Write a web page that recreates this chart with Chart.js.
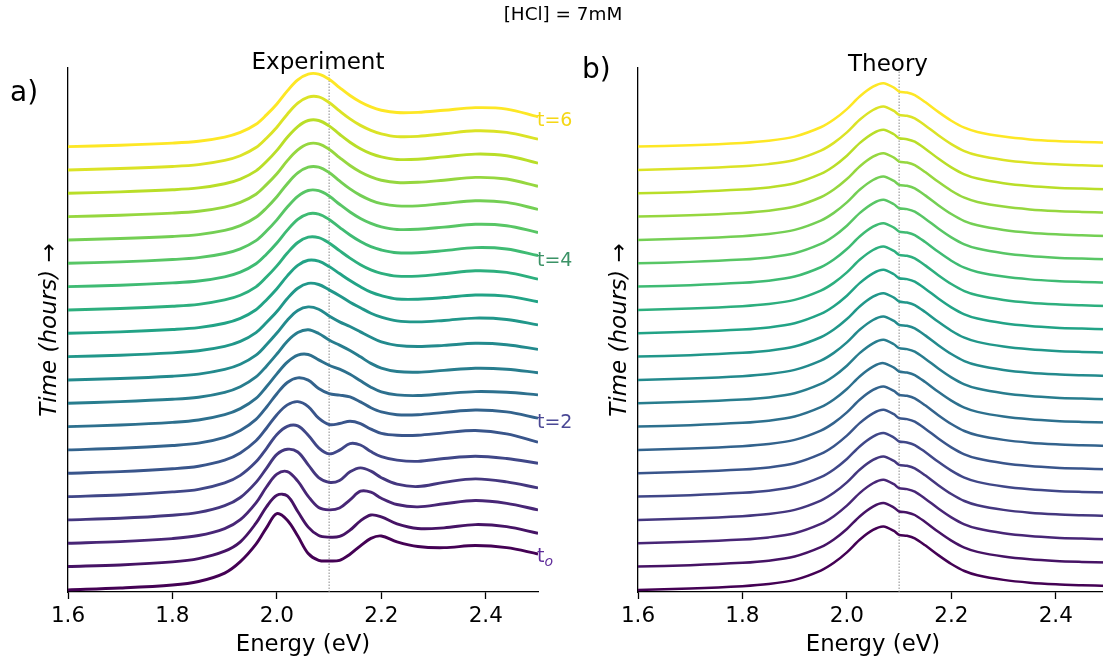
<!DOCTYPE html>
<html>
<head>
<meta charset="utf-8">
<script src="https://cdn.jsdelivr.net/npm/chart.js@4.4.1/dist/chart.umd.min.js"></script>
<style>
    html, body { margin: 0; padding: 0; overflow: hidden; background: #fff; width: 1103px; height: 660px; }
    body { position: relative; font-family: 'DejaVu Sans', sans-serif; }
    canvas { position: absolute; top: 0; }
    .txt { position: absolute; line-height: 1; white-space: nowrap; color: #000; }
</style>
</head>
<body>
<canvas id="graficoExperimento" width="560" height="660" style="left:0px"></canvas>
<canvas id="graficoTeoria" width="560" height="660" style="left:570px"></canvas>

<div class="txt" style="left:563px; top:5px; font-size:18.4px; transform:translateX(-50%)">[HCl] = 7mM</div>
<div class="txt" style="left:318px; top:50px; font-size:23px; transform:translateX(-50%)">Experiment</div>
<div class="txt" style="left:888px; top:52px; font-size:23px; transform:translateX(-50%)">Theory</div>
<div class="txt" style="left:10px; top:78px; font-size:28px">a)</div>
<div class="txt" style="left:582px; top:55px; font-size:28px">b)</div>
<div class="txt" style="left:537px; top:110px; font-size:19px; color:#f5d715">t=6</div>
<div class="txt" style="left:537px; top:250px; font-size:19px; color:#3b9266">t=4</div>
<div class="txt" style="left:537px; top:412px; font-size:19px; color:#4a4895">t=2</div>
<div class="txt" style="left:537px; top:546px; font-size:19px; color:#5f2c9a">t<span style="font-size:14px; font-style:italic; position:relative; top:4px">o</span></div>

<script>
// eixo de energia (eV) das curvas experimentais
const energia = [1.6, 1.7, 1.8, 1.85, 1.9, 1.93, 1.96, 1.98, 2.0, 2.02, 2.04, 2.06, 2.08,
                 2.1, 2.12, 2.14, 2.16, 2.18, 2.2, 2.23, 2.27, 2.32, 2.38, 2.44, 2.5];

// espectros experimentais, t0 (baixo) ate t=6 (topo)
const exp0  = [0.09,0.17,0.30,0.45,0.81,1.30,2.05,2.75,3.36,3.08,2.40,1.65,1.36,1.33,1.36,1.62,1.98,2.30,2.40,2.15,1.95,1.90,1.99,1.90,1.63];
const exp1  = [0.09,0.16,0.29,0.43,0.75,1.15,1.95,2.65,3.15,3.12,2.45,1.78,1.42,1.35,1.38,1.65,2.05,2.30,2.22,1.92,1.72,1.75,1.89,1.80,1.52];
const exp2  = [0.09,0.16,0.29,0.42,0.72,1.10,1.82,2.50,3.05,3.16,2.75,2.10,1.62,1.52,1.60,1.95,2.32,2.28,2.02,1.75,1.65,1.78,1.92,1.80,1.52];
const exp3  = [0.09,0.16,0.29,0.41,0.70,1.05,1.70,2.30,2.90,3.12,3.00,2.45,1.90,1.70,1.78,2.15,2.32,2.18,1.90,1.62,1.52,1.70,1.85,1.72,1.46];
const exp4  = [0.09,0.16,0.29,0.40,0.68,1.00,1.58,2.15,2.75,3.10,3.12,2.72,2.18,1.92,2.08,2.36,2.30,2.02,1.80,1.65,1.60,1.72,1.82,1.72,1.52];
const exp5  = [0.09,0.16,0.28,0.39,0.65,0.96,1.48,2.02,2.60,3.02,3.16,2.95,2.45,2.18,2.22,2.32,2.22,1.98,1.80,1.72,1.72,1.82,1.92,1.78,1.42];
const exp6  = [0.09,0.16,0.28,0.38,0.63,0.92,1.40,1.92,2.50,2.98,3.18,3.08,2.72,2.50,2.44,2.36,2.15,1.90,1.72,1.60,1.60,1.70,1.80,1.72,1.45];
const exp7  = [0.09,0.16,0.27,0.37,0.60,0.86,1.30,1.80,2.35,2.85,3.15,3.18,2.95,2.72,2.55,2.33,2.05,1.78,1.58,1.45,1.42,1.50,1.59,1.56,1.45];
const exp8  = [0.09,0.16,0.26,0.35,0.56,0.80,1.22,1.68,2.20,2.75,3.12,3.24,3.08,2.80,2.58,2.35,2.08,1.80,1.60,1.45,1.42,1.50,1.59,1.55,1.40];
const exp9  = [0.09,0.15,0.25,0.34,0.54,0.76,1.15,1.60,2.10,2.65,3.07,3.22,3.12,2.83,2.58,2.38,2.15,1.92,1.72,1.57,1.52,1.57,1.66,1.60,1.40];
const exp10 = [0.09,0.15,0.25,0.34,0.53,0.74,1.12,1.55,2.02,2.58,3.02,3.23,3.18,2.95,2.70,2.42,2.18,1.95,1.78,1.62,1.58,1.64,1.74,1.68,1.45];
const exp11 = [0.09,0.15,0.25,0.33,0.52,0.73,1.10,1.52,2.00,2.55,3.00,3.22,3.18,2.95,2.65,2.35,2.08,1.85,1.70,1.56,1.55,1.62,1.73,1.68,1.44];
const exp12 = [0.09,0.15,0.25,0.33,0.52,0.72,1.08,1.50,1.98,2.53,2.98,3.21,3.19,2.96,2.63,2.31,2.03,1.81,1.66,1.54,1.54,1.64,1.77,1.70,1.41];
const exp13 = [0.09,0.15,0.25,0.33,0.51,0.71,1.07,1.48,1.96,2.51,2.97,3.21,3.20,2.97,2.63,2.30,2.02,1.80,1.66,1.54,1.54,1.63,1.76,1.70,1.42];
const exp14 = [0.09,0.15,0.25,0.33,0.51,0.71,1.06,1.47,1.95,2.50,2.96,3.21,3.20,2.97,2.62,2.29,2.01,1.80,1.65,1.54,1.55,1.64,1.76,1.70,1.41];
const exp15 = [0.09,0.15,0.24,0.32,0.50,0.70,1.06,1.46,1.94,2.50,2.96,3.21,3.21,2.98,2.62,2.28,2.00,1.79,1.65,1.55,1.55,1.65,1.77,1.70,1.40];
const exp16 = [0.09,0.15,0.24,0.32,0.50,0.70,1.05,1.46,1.93,2.49,2.95,3.21,3.21,2.98,2.62,2.28,2.00,1.79,1.65,1.55,1.56,1.65,1.77,1.70,1.39];
const exp17 = [0.09,0.15,0.24,0.32,0.50,0.70,1.05,1.45,1.93,2.49,2.95,3.21,3.21,2.98,2.62,2.28,2.00,1.79,1.65,1.54,1.55,1.65,1.77,1.70,1.38];
const exp18 = [0.09,0.15,0.24,0.32,0.50,0.70,1.05,1.45,1.92,2.48,2.95,3.21,3.22,2.98,2.62,2.28,2.00,1.79,1.64,1.52,1.53,1.64,1.77,1.70,1.41];
const exp19 = [0.09,0.15,0.24,0.32,0.50,0.70,1.05,1.45,1.92,2.48,2.95,3.20,3.20,2.98,2.62,2.28,2.00,1.79,1.65,1.55,1.56,1.65,1.76,1.70,1.37];

// teoria: todas as curvas tem a mesma forma
const energiaTeoria = [1.6, 1.7, 1.8, 1.85, 1.9, 1.95, 1.975, 2.0, 2.025, 2.05, 2.07, 2.09, 2.1,
                       2.115, 2.13, 2.15, 2.175, 2.2, 2.225, 2.25, 2.3, 2.35, 2.4, 2.45, 2.5];
const formaTeoria = [0.09,0.15,0.25,0.34,0.52,0.92,1.25,1.70,2.25,2.66,2.81,2.62,2.45,2.41,2.30,2.00,1.58,1.20,0.90,0.72,0.52,0.40,0.33,0.29,0.26];
const numCurvasTeoria = 20;

const ticksEnergia = [1.6, 1.8, 2.0, 2.2, 2.4];
const energiaMarcador = 2.1;

const viridis = ['#440154', '#482475', '#414487', '#355f8d', '#2a788e', '#21918c',
                 '#22a884', '#44bf70', '#7ad151', '#bddf26', '#fde725'];

function corViridis(t) {
    let pos = t * (viridis.length - 1);
    let k = Math.min(Math.floor(pos), viridis.length - 2);
    let f = pos - k;
    let a = viridis[k], b = viridis[k + 1];
    let canal = (c, s) => parseInt(c.substr(s, 2), 16);
    let mix = (s) => Math.round(canal(a, s) + (canal(b, s) - canal(a, s)) * f);
    return 'rgb(' + mix(1) + ',' + mix(3) + ',' + mix(5) + ')';
}

const Y_MAX = 22.46;

function montarDatasets(curvas, energias, tensao, espessura) {
    let datasets = [];
    curvas.forEach((valores, i) => {
        datasets.push({
            data: valores.map((v, k) => ({x: energias[k], y: i + v})),
            borderColor: corViridis(i / (curvas.length - 1)),
            borderWidth: espessura,
            pointRadius: 0,
            tension: tensao,
            fill: false
        });
    });
    datasets.reverse();
    datasets.push({
        data: [{x: energiaMarcador, y: 0}, {x: energiaMarcador, y: Y_MAX}],
        borderColor: '#8a8a8a',
        borderWidth: 1,
        borderDash: [1.5, 1.5],
        pointRadius: 0,
        tension: 0
    });
    return datasets;
}

function opcoes() {
    return {
        responsive: false,
        animation: false,
        devicePixelRatio: 1,
        layout: {padding: {left: 0, right: 22, top: 68, bottom: 0}},
        plugins: {legend: {display: false}, tooltip: {enabled: false}},
        scales: {
            x: {
                type: 'linear',
                min: 1.6,
                max: 2.5,
                afterBuildTicks: (s) => { s.ticks = ticksEnergia.map(v => ({value: v})); },
                afterFit: (s) => { s.height = 68; },
                ticks: {
                    color: '#000',
                    padding: 4.5,
                    maxRotation: 0,
                    font: {family: 'DejaVu Sans', size: 21.5},
                    callback: (v) => Number(v).toFixed(1)
                },
                grid: {drawOnChartArea: false, drawTicks: true, tickLength: 7, tickColor: '#000', tickWidth: 1.3},
                border: {display: true, color: '#000', width: 1.3},
                title: {
                    display: true,
                    text: 'Energy (eV)',
                    color: '#000',
                    font: {family: 'DejaVu Sans', size: 22.8},
                    padding: {top: 0, bottom: 1.3}
                }
            },
            y: {
                type: 'linear',
                min: 0,
                max: Y_MAX,
                afterFit: (s) => { s.width = 68; },
                ticks: {display: false},
                grid: {display: false},
                border: {display: true, color: '#000', width: 1.3},
                title: {
                    display: true,
                    text: 'Time (hours) \u2192',
                    color: '#000',
                    font: {family: 'DejaVu Sans', size: 23, style: 'italic'},
                    padding: {top: 36, bottom: 0}
                }
            }
        }
    };
}

const curvasExperimento = [exp0, exp1, exp2, exp3, exp4, exp5, exp6, exp7, exp8, exp9,
                           exp10, exp11, exp12, exp13, exp14, exp15, exp16, exp17, exp18, exp19];
let curvasTeoria = [];
for (let i = 0; i < numCurvasTeoria; i++) curvasTeoria.push(formaTeoria);

new Chart(document.getElementById('graficoExperimento'), {
    type: 'line',
    data: {datasets: montarDatasets(curvasExperimento, energia, 0.35, 2.9)},
    options: opcoes()
});

new Chart(document.getElementById('graficoTeoria'), {
    type: 'line',
    data: {datasets: montarDatasets(curvasTeoria, energiaTeoria, 0.3, 2.5)},
    options: opcoes()
});
</script>
</body>
</html>
